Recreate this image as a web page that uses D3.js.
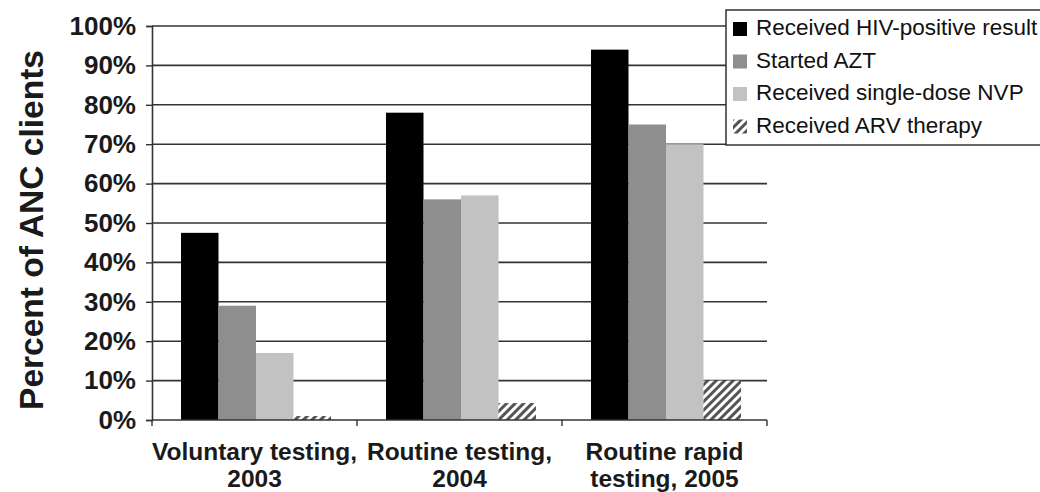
<!DOCTYPE html>
<html>
<head>
<meta charset="utf-8">
<script src="https://cdn.jsdelivr.net/npm/d3@7"></script>
<style>
  body { margin: 0; background: #fff; }
  svg { display: block; font-family: "Liberation Sans", Arial, sans-serif; }
</style>
</head>
<body>
<svg id="chart" width="1040" height="492"></svg>
<script>
// data
const categories = [["Voluntary testing,", "2003"], ["Routine testing,", "2004"], ["Routine rapid", "testing, 2005"]];
const seriesNames = ["Received HIV-positive result", "Started AZT", "Received single-dose NVP", "Received ARV therapy"];
const hivPositive = [47.5, 78, 94];
const startedAZT = [29, 56, 75];
const singleDoseNVP = [17, 57, 70];
const arvTherapy = [1, 4.3, 10];
const yTicks = [0, 10, 20, 30, 40, 50, 60, 70, 80, 90, 100];

const series = [hivPositive, startedAZT, singleDoseNVP, arvTherapy];
const fills = ["#000", "#8e8e8e", "#c2c2c2", "url(#hatch)"];

const svg = d3.select("#chart");
const plotLeft = 152, plotRight = 767, plotTop = 26, plotBottom = 420;

const defs = svg.append("defs");
const pat = defs.append("pattern")
    .attr("id", "hatch")
    .attr("patternUnits", "userSpaceOnUse")
    .attr("width", 6).attr("height", 6)
    .attr("patternTransform", "rotate(45)");
pat.append("rect").attr("width", 6).attr("height", 6).attr("fill", "#fff");
pat.append("rect").attr("width", 3).attr("height", 6).attr("fill", "#555");

const x = d3.scaleBand().domain(d3.range(categories.length)).range([plotLeft, plotRight]).paddingInner(0);
const y = d3.scaleLinear().domain([0, 100]).range([plotBottom, plotTop]);

// gridlines
svg.append("g").selectAll("line").data(yTicks.filter(d => d > 0)).join("line")
    .attr("x1", plotLeft).attr("x2", plotRight)
    .attr("y1", d => y(d)).attr("y2", d => y(d))
    .attr("stroke", "#333").attr("stroke-width", 1.6);

// bars
const inner = 29, barW = 37.5;
series.forEach((vals, s) => {
  svg.append("g").selectAll("rect").data(vals).join("rect")
      .attr("x", (d, i) => x(i) + inner + s * barW)
      .attr("y", d => y(d))
      .attr("width", barW)
      .attr("height", d => plotBottom - y(d))
      .attr("fill", fills[s]);
});

// y axis
const yAxis = svg.append("g").attr("transform", `translate(${plotLeft},0)`)
    .call(d3.axisLeft(y).tickValues(yTicks).tickSize(6).tickFormat(d => d + "%"));
yAxis.select(".domain").attr("stroke", "#333").attr("stroke-width", 1.6);
yAxis.selectAll(".tick line").attr("stroke", "#333").attr("stroke-width", 1.4);
yAxis.selectAll(".tick text")
    .attr("x", -16)
    .attr("font-size", 26).attr("font-weight", "bold").attr("fill", "#1a1a1a")
    .attr("font-family", "Liberation Sans, Arial, sans-serif");

// x axis
const xg = svg.append("g").attr("transform", `translate(0,${plotBottom})`);
xg.append("line").attr("x1", plotLeft).attr("x2", plotRight).attr("stroke", "#333").attr("stroke-width", 1.6);
xg.selectAll("line.t").data(d3.range(categories.length + 1)).join("line")
    .attr("class", "t")
    .attr("x1", i => plotLeft + i * x.bandwidth()).attr("x2", i => plotLeft + i * x.bandwidth())
    .attr("y1", 0).attr("y2", 6)
    .attr("stroke", "#333").attr("stroke-width", 1.4);
const labels = xg.selectAll("text").data(categories).join("text")
    .attr("text-anchor", "middle")
    .attr("font-size", 24.5).attr("font-weight", "bold").attr("fill", "#1a1a1a")
    .attr("transform", (d, i) => `translate(${x(i) + x.bandwidth() / 2},0)`);
labels.selectAll("tspan").data(d => d).join("tspan")
    .attr("x", 0).attr("y", (d, j) => 40 + j * 27)
    .text(d => d);

// y title
svg.append("text")
    .attr("transform", `translate(43,${(plotTop + plotBottom) / 2 + 7}) rotate(-90)`)
    .attr("text-anchor", "middle")
    .attr("font-size", 33.5).attr("font-weight", "bold").attr("fill", "#1a1a1a")
    .text("Percent of ANC clients");

// legend
const lg = svg.append("g").attr("transform", "translate(726,10)");
lg.append("rect").attr("width", 330).attr("height", 135)
    .attr("fill", "#fff").attr("stroke", "#333").attr("stroke-width", 1.5);
const items = lg.selectAll("g").data(seriesNames).join("g")
    .attr("transform", (d, i) => `translate(0,${25 + i * 32.5})`);
items.append("rect")
    .attr("x", 7).attr("y", -13).attr("width", 14).attr("height", 14)
    .attr("fill", (d, i) => fills[i]);
items.append("text")
    .attr("x", 30)
    .attr("font-size", 22.5).attr("fill", "#111")
    .text(d => d);
</script>
</body>
</html>
